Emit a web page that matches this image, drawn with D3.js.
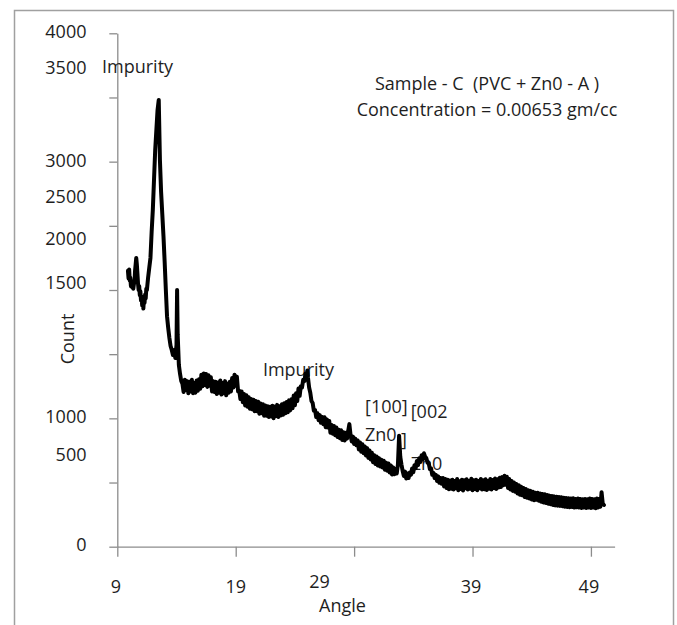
<!DOCTYPE html>
<html>
<head>
<meta charset="utf-8">
<script src="https://cdn.jsdelivr.net/npm/d3@7"></script>
<style>
  html, body { margin: 0; padding: 0; background: #fff; }
  svg { display: block; }
  text { font-family: "Open Sans", "Noto Sans", sans-serif; fill: #1e1e1e; white-space: pre; }
</style>
</head>
<body>
<svg id="chart" width="677" height="625"></svg>
<script>
// ---------------- DATA ----------------
const angles = [
  9.9,9.95,10.0,10.05,10.1,10.15,10.2,10.25,10.3,10.35,
  10.4,10.45,10.5,10.55,10.6,10.65,10.7,10.75,10.8,10.85,
  10.9,10.95,11.0,11.05,11.1,11.15,11.2,11.25,11.3,11.35,
  11.4,11.45,11.5,11.6,11.7,11.8,11.9,12.0,12.1,12.2,
  12.3,12.4,12.5,12.6,12.7,12.8,12.9,13.0,13.1,13.2,
  13.3,13.4,13.5,13.6,13.7,13.8,13.9,14.0,14.05,14.1,
  14.2,14.3,14.4,
  14.5,14.6,14.7,14.8,14.9,15.0,15.1,15.2,15.3,15.4,
  15.5,15.6,15.7,15.8,15.9,16.0,16.1,16.2,16.3,16.4,
  16.5,16.6,16.7,16.8,16.9,17.0,17.1,17.2,17.3,17.4,
  17.5,17.6,17.7,17.8,17.9,18.0,18.1,18.2,18.3,18.4,
  18.5,18.6,18.7,18.8,18.9,19.0,19.1,19.2,19.3,19.4,
  19.5,19.6,19.7,19.8,19.9,20.0,20.1,20.2,20.3,20.4,
  20.5,20.6,20.7,20.8,20.9,21.0,21.1,21.2,21.3,21.4,
  21.5,21.6,21.7,21.8,21.9,22.0,22.1,22.2,22.3,22.4,
  22.5,22.6,22.7,22.8,22.9,23.0,23.1,23.2,23.3,23.4,
  23.5,23.6,23.7,23.8,23.9,24.0,24.1,24.2,24.3,24.4,
  24.5,24.6,24.7,24.8,24.9,25.0,25.05,25.1,25.2,25.3,
  25.4,25.5,25.6,25.7,25.8,25.9,26.0,26.1,26.2,26.3,
  26.4,26.5,26.6,26.7,26.8,26.9,27.0,27.1,27.2,27.3,
  27.4,27.5,27.6,27.7,27.8,27.9,28.0,28.1,28.2,28.3,
  28.4,28.5,28.6,28.7,28.8,28.9,29.0,29.1,29.2,29.3,
  29.4,29.5,29.6,29.7,29.8,29.9,30.0,30.1,30.2,30.3,
  30.4,30.5,30.6,30.7,30.8,30.9,31.0,31.1,31.2,31.3,
  31.4,31.5,31.6,31.7,31.8,31.9,32.0,32.1,32.2,32.3,
  32.4,32.5,32.6,32.7,32.8,32.9,33.0,33.1,33.2,33.3,
  33.4,33.5,33.6,33.7,33.8,33.9,34.0,34.1,34.2,34.3,
  34.4,34.5,34.6,34.7,34.8,34.9,35.0,35.1,35.2,35.3,
  35.4,35.5,35.6,35.7,35.8,35.9,36.0,36.1,36.2,36.3,
  36.4,36.5,36.6,36.7,36.8,36.9,37.0,37.1,37.2,37.3,
  37.4,37.5,37.6,37.7,37.8,37.9,38.0,38.1,38.2,38.3,
  38.4,38.5,38.6,38.7,38.8,38.9,39.0,39.1,39.2,39.3,
  39.4,39.5,39.6,39.7,39.8,39.9,40.0,40.1,40.2,40.3,
  40.4,40.5,40.6,40.7,40.8,40.9,41.0,41.1,41.2,41.3,
  41.4,41.5,41.6,41.7,41.8,41.9,42.0,42.1,42.2,42.3,
  42.4,42.5,42.6,42.7,42.8,42.9,43.0,43.1,43.2,43.3,
  43.4,43.5,43.6,43.7,43.8,43.9,44.0,44.1,44.2,44.3,
  44.4,44.5,44.6,44.7,44.8,44.9,45.0,45.1,45.2,45.3,
  45.4,45.5,45.6,45.7,45.8,45.9,46.0,46.1,46.2,46.3,
  46.4,46.5,46.6,46.7,46.8,46.9,47.0,47.1,47.2,47.3,
  47.4,47.5,47.6,47.7,47.8,47.9,48.0,48.1,48.2,48.3,
  48.4,48.5,48.6,48.7,48.8,48.9,49.0,49.1,49.2,49.3,
  49.4,49.5,49.6,49.7,49.8,49.9,50.0,50.1
];
const counts = [
  2150,2090,2160,2075,2095,2030,2070,2020,2060,2010,
  2045,2060,2150,2200,2250,2200,2130,2050,2000,2030,
  1960,1990,1920,1950,1880,1920,1855,1930,1900,1965,
  1935,2010,2000,2095,2173,2250,2452,2624,2857,3091,
  3247,3403,3481,3012,2762,2591,2419,2218,2000,1796,
  1704,1626,1564,1533,1494,1533,1470,1572,2000,1650,
  1416,1346,1291,
  1270,1205,1300,1220,1290,1195,1285,1210,1300,1195,
  1275,1200,1295,1215,1305,1230,1340,1250,1350,1260,
  1345,1245,1335,1255,1320,1210,1290,1205,1285,1190,
  1280,1200,1295,1185,1275,1195,1290,1180,1270,1200,
  1285,1210,1315,1240,1340,1255,1325,1210,1215,1150,
  1210,1125,1190,1100,1180,1090,1165,1075,1150,1070,
  1145,1055,1135,1055,1130,1035,1115,1040,1110,1020,
  1100,1020,1095,1010,1090,1015,1098,1000,1092,1018,
  1105,1010,1095,1022,1110,1028,1118,1040,1128,1048,
  1140,1062,1148,1078,1178,1102,1195,1135,1232,1175,
  1250,1240,1300,1290,1350,1340,1372,1320,1240,1200,
  1135,1120,1060,1065,1010,1040,985,1025,965,1010,
  955,1008,930,992,928,980,888,948,880,940,
  868,928,855,912,845,908,832,892,828,888,
  842,900,955,870,820,858,800,842,790,828,
  758,812,740,798,728,780,710,768,692,750,
  680,732,658,712,645,702,632,690,625,678,
  618,670,600,655,592,648,578,632,562,618,
  565,605,570,640,865,700,640,590,552,585,
  532,570,535,578,560,610,580,635,612,668,
  635,688,660,712,680,728,700,690,655,650,
  605,610,560,575,535,560,512,548,498,535,
  490,535,470,528,458,522,448,515,452,522,
  445,512,455,528,440,510,450,522,438,518,
  455,525,445,512,452,530,440,518,450,522,
  440,512,455,528,445,518,448,525,442,512,
  452,528,445,520,458,532,450,525,462,538,
  465,542,478,552,482,545,458,528,445,512,
  435,500,428,488,415,478,405,468,400,458,
  388,450,382,440,375,435,368,428,362,420,
  365,420,358,415,350,410,345,408,340,402,
  335,398,330,395,325,392,322,390,320,388,
  318,385,315,382,312,380,310,378,308,375,
  310,378,305,372,308,375,305,372,302,370,
  305,372,302,370,305,375,302,372,305,370,
  300,375,305,372,312,425,335,325
];
const yTickValues = [0,500,1000,1500,2000,2500,3000,3500,4000];
const yTickLabels = ["0","500","1000","1500","2000","2500","3000","3500","4000"];
const xTickValues = [9,19,29,39,49];
const xTickLabels = ["9","19","29","39","49"];
const titleLines = ["Sample - C  (PVC + Zn0 - A )", "Concentration = 0.00653 gm/cc"];
const annoTexts  = ["Impurity","Impurity","[100]","[002","Zn0","]","Zn0"];
const annoAngles = [10.71, 24.30, 29.92, 33.78, 29.92, 32.96, 33.78];
const annoCounts = [3740, 1382, 1091, 1052, 876, 837, 644];

// ---------------- LAYOUT ----------------
const svg = d3.select("#chart");
const X0 = 117.3, X1 = 614.6, Y0 = 546.7, Y1 = 33.3;
const x = d3.scaleLinear().domain([9, 51]).range([X0, X1]);
const y = d3.scaleLinear().domain([0, 4000]).range([Y0, Y1]);
const axisColor = "#8c8c8c";
const FS = 18;
// label displacements as seen in the reference (px)
const yLabelShift = {"3500": -29.5, "2500": -29, "2000": -51, "1500": -71, "500": -27.5, "4000": -1.3, "1000": -1.4, "0": -1.7, "3000": -0.7};
const xLabelShift = {"29": [-34.5, -5], "39": [-1.5, 0], "49": [-2, 0], "9": [-1.3, 0]};
const annoAnchor = ["middle","middle","start","start","start","start","start"];

// outer frame
svg.append("rect").attr("x", 14.5).attr("y", 10.5).attr("width", 659).attr("height", 640)
  .attr("fill", "none").attr("stroke", "#a0a0a0").attr("stroke-width", 1.5);

// axes
const gy = svg.append("g").attr("transform", `translate(${X0},0)`)
  .call(d3.axisLeft(y).tickValues(yTickValues).tickSize(8).tickSizeOuter(0).tickFormat(""));
const gx = svg.append("g").attr("transform", `translate(0,${Y0})`)
  .call(d3.axisBottom(x).tickValues(xTickValues).tickSize(10).tickSizeOuter(0).tickFormat(""));
[gx, gy].forEach(g => {
  g.selectAll("path, line").attr("stroke", axisColor).attr("stroke-width", 1.3);
});

// y tick labels
svg.append("g").selectAll("text").data(yTickValues).join("text")
  .attr("x", 86.5)
  .attr("y", (d, i) => y(d) + (yLabelShift[yTickLabels[i]] || 0))
  .attr("dy", "0.35em")
  .attr("text-anchor", "end")
  .style("font-size", FS + "px")
  .text((d, i) => yTickLabels[i]);

// x tick labels
svg.append("g").selectAll("text").data(xTickValues).join("text")
  .attr("x", (d, i) => x(d) + ((xLabelShift[xTickLabels[i]] || [0,0])[0]))
  .attr("y", (d, i) => 587 + ((xLabelShift[xTickLabels[i]] || [0,0])[1]))
  .attr("dy", "0.35em")
  .attr("text-anchor", "middle")
  .style("font-size", FS + "px")
  .text((d, i) => xTickLabels[i]);

// axis titles
svg.append("text").attr("x", 342.5).attr("y", 606).attr("dy", "0.35em")
  .attr("text-anchor", "middle").style("font-size", FS + "px").text("Angle");
svg.append("text").attr("transform", "translate(68,339) rotate(-90)").attr("dy", "0.35em")
  .attr("text-anchor", "middle").style("font-size", FS + "px").text("Count");

// title block
svg.append("g").selectAll("text").data(titleLines).join("text")
  .attr("x", 487).attr("y", (d, i) => 83.3 + i * 26).attr("dy", "0.35em")
  .attr("text-anchor", "middle").style("font-size", FS + "px").text(d => d);

// annotations (drawn beneath the trace)
svg.append("g").selectAll("text").data(annoTexts).join("text")
  .attr("x", (d, i) => x(annoAngles[i]))
  .attr("y", (d, i) => y(annoCounts[i]))
  .attr("dy", "0.35em")
  .attr("text-anchor", (d, i) => annoAnchor[i])
  .style("font-size", FS + "px")
  .text(d => d);

// trace
const n = Math.min(angles.length, counts.length);
const pts = d3.range(n).map(i => [angles[i], counts[i]]);
svg.append("path").datum(pts)
  .attr("fill", "none").attr("stroke", "#000").attr("stroke-width", 4)
  .attr("stroke-linejoin", "round").attr("stroke-linecap", "round")
  .attr("d", d3.line().x(d => x(d[0])).y(d => y(d[1])));
</script>
</body>
</html>
